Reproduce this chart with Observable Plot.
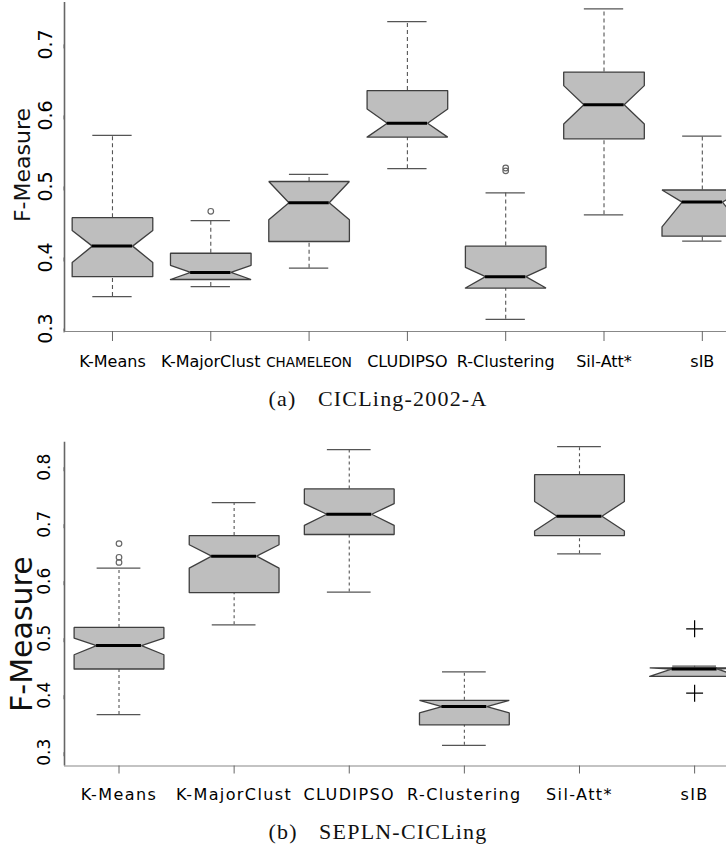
<!DOCTYPE html>
<html>
<head>
<meta charset="utf-8">
<script src="https://cdn.jsdelivr.net/npm/d3@7"></script>
<script src="https://cdn.jsdelivr.net/npm/@observablehq/plot@0.6"></script>
<style>
  html, body { margin: 0; padding: 0; background: #fff; overflow: hidden; }
  #wrap { position: relative; width: 726px; height: 846px; background: #fff; }
  .chart { position: absolute; left: 0; z-index: 1; }
  .chart svg { overflow: hidden; background: transparent !important; }
  .caption { position: absolute; left: 15px; width: 726px; text-align: center; z-index: 2;
             font-family: "Liberation Serif", "DejaVu Serif", serif; font-size: 22px; line-height: 22px;
             letter-spacing: 1.2px; word-spacing: 4px; color: #111; white-space: pre; }
  g[aria-label="x-axis tick"] path, g[aria-label="y-axis tick"] path { stroke: #666; }
  #chartB g[aria-label="x-axis tick label"] text { letter-spacing: 1.4px; }
</style>
</head>
<body>
<div id="wrap">
  <div class="chart" id="chartA" style="top:0px"></div>
  <div class="chart" id="chartB" style="top:400px"></div>
  <div class="caption" style="top:388px">(a)  CICLing-2002-A</div>
  <div class="caption" style="top:821px">(b)  SEPLN-CICLing</div>
</div>
<script>
// ---------- (a) CICLing-2002-A ----------
const categoriesA = ["K-Means", "K-MajorClust", "CHAMELEON", "CLUDIPSO", "R-Clustering", "Sil-Att*", "sIB"];
const whiskerLowA  = [0.345, 0.359, 0.385, 0.525, 0.313, 0.460, 0.423];
const q1A          = [0.373, 0.369, 0.4225, 0.5695, 0.357, 0.567, 0.430];
const notchLowA    = [0.393, 0.369, 0.453, 0.5695, 0.357, 0.588, 0.443];
const medianA      = [0.416, 0.379, 0.477, 0.589, 0.373, 0.615, 0.478];
const notchHighA   = [0.438, 0.389, 0.507, 0.609, 0.386, 0.642, 0.495];
const q3A          = [0.456, 0.406, 0.507, 0.635, 0.416, 0.661, 0.495];
const whiskerHighA = [0.572, 0.452, 0.517, 0.732, 0.491, 0.750, 0.571];
const outlierCatA  = ["K-MajorClust", "R-Clustering", "R-Clustering"];
const outlierValA  = [0.465, 0.522, 0.526];
const yTicksA      = [0.3, 0.4, 0.5, 0.6, 0.7];

// ---------- (b) SEPLN-CICLing ----------
const categoriesB = ["K-Means", "K-MajorClust", "CLUDIPSO", "R-Clustering", "Sil-Att*", "sIB"];
const whiskerLowB  = [0.366, 0.5235, 0.581, 0.312, 0.648, 0.433];
const q1B          = [0.446, 0.580, 0.682, 0.348, 0.680, 0.433];
const notchLowB    = [0.471, 0.623, 0.698, 0.369, 0.688, 0.433];
const medianB      = [0.487, 0.644, 0.7175, 0.380, 0.714, 0.446];
const notchHighB   = [0.500, 0.664, 0.736, 0.391, 0.740, 0.448];
const q3B          = [0.519, 0.680, 0.762, 0.391, 0.787, 0.448];
const whiskerHighB = [0.623, 0.738, 0.831, 0.441, 0.836, 0.451];
const outlierCatB  = ["K-Means", "K-Means", "K-Means"];
const outlierValB  = [0.666, 0.642, 0.633];
const plusCatB     = ["sIB", "sIB"];
const plusValB     = [0.5165, 0.4035];
const yTicksB      = [0.3, 0.4, 0.5, 0.6, 0.7, 0.8];

function boxChart(o) {
  const idx = o.cats.map((_, i) => i);
  const rows = idx.map(i => ({
    i, wLo: o.wLo[i], q1: o.q1[i], nLo: o.nLo[i], med: o.med[i], nHi: o.nHi[i], q3: o.q3[i], wHi: o.wHi[i]
  }));
  const h = o.half, n = o.half / 2, c = o.cap;
  const poly = rows.flatMap(r => [
    [r.i - h, r.q1], [r.i - h, r.nLo], [r.i - n, r.med], [r.i - h, r.nHi], [r.i - h, r.q3],
    [r.i + h, r.q3], [r.i + h, r.nHi], [r.i + n, r.med], [r.i + h, r.nLo], [r.i + h, r.q1], [r.i - h, r.q1]
  ].map(([x, y]) => ({cat: r.i, x, y})));
  const outs = o.outCat.map((k, j) => ({x: o.cats.indexOf(k), y: o.outVal[j]}));
  const plus = (o.plusCat || []).map((k, j) => ({x: o.cats.indexOf(k), y: o.plusVal[j]}));
  const mainTicks = idx.filter(i => !(o.smallCats || []).includes(o.cats[i]));
  const smallTicks = idx.filter(i => (o.smallCats || []).includes(o.cats[i]));
  const fmt = i => o.cats[i];
  const marks = [
    // whiskers
    Plot.ruleX(rows, {x: "i", y1: "q3", y2: "wHi", stroke: "#555", strokeWidth: 1.1, strokeDasharray: o.dash}),
    Plot.ruleX(rows, {x: "i", y1: "wLo", y2: "q1", stroke: "#555", strokeWidth: 1.1, strokeDasharray: o.dash}),
    // caps
    Plot.ruleY(rows, {y: "wHi", x1: d => d.i - c, x2: d => d.i + c, stroke: "#555", strokeWidth: 1.2}),
    Plot.ruleY(rows, {y: "wLo", x1: d => d.i - c, x2: d => d.i + c, stroke: "#555", strokeWidth: 1.2}),
    // notched boxes
    Plot.line(poly, {x: "x", y: "y", z: "cat", fill: "#bebebe", stroke: "#3f3f3f", strokeWidth: 1.3, strokeLinejoin: "miter"}),
    // medians
    Plot.ruleY(rows, {y: "med", x1: d => d.i - n, x2: d => d.i + n, stroke: "#000", strokeWidth: 3}),
    // outliers
    Plot.dot(outs, {x: "x", y: "y", r: 2.8, stroke: "#666", strokeWidth: 1.2, fill: "none"}),
    Plot.dot(plus, {x: "x", y: "y", symbol: "plus", r: 5.5, stroke: "#000", strokeWidth: 1.2}),
    // axis lines
    Plot.ruleX([o.xDomain[0]], {stroke: "#666", strokeWidth: 1.6}),
    Plot.ruleY([o.yDomain[0]], {stroke: "#888", strokeWidth: 1.2}),
    // axes
    Plot.axisY({ticks: o.yTicks, tickSize: 4, tickPadding: o.yPad, rotate: -90, textAnchor: "middle",
                fontSize: o.yFont, tickFormat: d3.format(".1f"), label: null}),
    Plot.axisX({ticks: mainTicks, tickFormat: fmt, tickSize: o.xTick, tickPadding: o.xPad, fontSize: 16, label: null}),
    Plot.text(["F-Measure"], {frameAnchor: "left", textAnchor: "middle", rotate: -90, dx: o.labDx, dy: o.labDy,
                              fontSize: o.labFont, fill: "#111"})
  ];
  if (smallTicks.length) {
    marks.push(Plot.axisX({ticks: smallTicks, tickFormat: fmt, tickSize: o.xTick, tickPadding: o.xPad + 1.5, fontSize: 13.5, label: null}));
  }
  return Plot.plot({
    width: 726, height: o.height,
    marginLeft: 64, marginRight: 0, marginTop: o.marginTop, marginBottom: o.marginBottom,
    style: {fontFamily: "'DejaVu Sans', Verdana, sans-serif", color: "#000", background: "transparent"},
    x: {type: "linear", domain: o.xDomain, axis: null},
    y: {domain: o.yDomain, axis: null},
    marks
  });
}

document.getElementById("chartA").append(boxChart({
  cats: categoriesA, wLo: whiskerLowA, q1: q1A, nLo: notchLowA, med: medianA, nHi: notchHighA, q3: q3A, wHi: whiskerHighA,
  outCat: outlierCatA, outVal: outlierValA, yTicks: yTicksA, smallCats: ["CHAMELEON"],
  xDomain: [-0.488, 6.246], yDomain: [0.2958, 0.759],
  height: 370, marginTop: 2, marginBottom: 39,
  half: 0.41, cap: 0.2, dash: "4,3",
  yPad: 14.5, yFont: 19, xTick: 10, xPad: 14,
  labDx: -42, labDy: -2, labFont: 22
}));

document.getElementById("chartB").append(boxChart({
  cats: categoriesB, wLo: whiskerLowB, q1: q1B, nLo: notchLowB, med: medianB, nHi: notchHighB, q3: q3B, wHi: whiskerHighB,
  outCat: outlierCatB, outVal: outlierValB, plusCat: plusCatB, plusVal: plusValB, yTicks: yTicksB,
  xDomain: [-0.4735, 5.277], yDomain: [0.2758, 0.8439],
  height: 410, marginTop: 41.7, marginBottom: 44.5,
  half: 0.39, cap: 0.19, dash: "3,3",
  yPad: 15.5, yFont: 17, xTick: 8, xPad: 14.5,
  labDx: -42, labDy: 30, labFont: 30
}));
</script>
</body>
</html>
